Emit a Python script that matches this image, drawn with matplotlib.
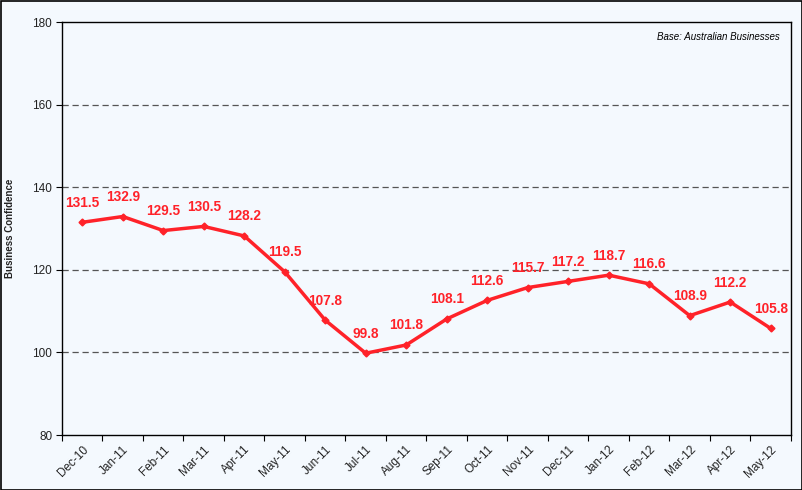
import matplotlib
matplotlib.use("Agg")
import matplotlib.pyplot as plt
from matplotlib.patches import Rectangle
from matplotlib.transforms import ScaledTranslation

months = ["Dec-10", "Jan-11", "Feb-11", "Mar-11", "Apr-11", "May-11", "Jun-11", "Jul-11",
          "Aug-11", "Sep-11", "Oct-11", "Nov-11", "Dec-11", "Jan-12", "Feb-12", "Mar-12",
          "Apr-12", "May-12"]
confidence = [131.5, 132.9, 129.5, 130.5, 128.2, 119.5, 107.8, 99.8, 101.8, 108.1,
              112.6, 115.7, 117.2, 118.7, 116.6, 108.9, 112.2, 105.8]
yticks = [80, 100, 120, 140, 160, 180]

plt.rcParams['font.family'] = ['Liberation Sans', 'DejaVu Sans']

bg = "#F4F9FE"
red = "#FF2229"
W, H = 803, 490
fig = plt.figure(figsize=(W / 100, H / 100), dpi=100, facecolor=bg)
fig.patches.append(Rectangle((0.5 / W, 0.5 / H), 1 - 1.5 / W, 1 - 1.5 / H, transform=fig.transFigure,
                             fill=False, edgecolor="black", linewidth=1.2))

left, right, top, bottom = 62, 791, 22, 435
ax = fig.add_axes([left / W, 1 - bottom / H, (right - left) / W, (bottom - top) / H])
ax.set_facecolor(bg)

n = len(months)
x = [i + 0.5 for i in range(n)]
ax.plot(x, confidence, color=red, linewidth=2.5, marker="D", markersize=3.5,
        markerfacecolor=red, markeredgecolor=red, zorder=3)
for xi, v in zip(x, confidence):
    ax.annotate(f"{v:.1f}", (xi, v), xytext=(0, 9), textcoords="offset points",
                ha="center", va="bottom", color=red, fontsize=9.8, fontweight="bold")

ax.set_xlim(0, n)
ax.set_ylim(80, 180)
ax.set_yticks(yticks)
ax.set_yticklabels([str(t) for t in yticks], fontsize=8.5, color="#222222")
for t in yticks[1:-1]:
    ax.axhline(t, color="#555555", linestyle=(0, (5, 3)), linewidth=0.9, zorder=1)

ax.set_xticks(range(n + 1))
ax.set_xticklabels([])
ax.set_xticks(x, minor=True)
ax.set_xticklabels(months, minor=True, rotation=45, ha="right", rotation_mode="anchor",
                   fontsize=8.5, color="#222222")
shift = ScaledTranslation(-5 / 100, 0, fig.dpi_scale_trans)
for lbl in ax.get_xticklabels(minor=True):
    lbl.set_transform(lbl.get_transform() + shift)
ax.tick_params(axis="x", which="minor", length=0, pad=6)
ax.tick_params(axis="x", which="major", length=4, direction="out", color="black")
ax.tick_params(axis="y", length=4, direction="out", color="black", pad=3)
for s in ax.spines.values():
    s.set_color("black")
    s.set_linewidth(1.0)

fig.text(10 / W, 1 - 228 / H, "Business Confidence", rotation=90, ha="center", va="center",
         fontsize=7, fontweight="bold", color="#222222")
ax.text(0.985, 0.975, "Base: Australian Businesses", transform=ax.transAxes, ha="right",
        va="top", fontsize=7, style="italic", color="black")

fig.savefig("out.png", dpi=100, facecolor=bg)
